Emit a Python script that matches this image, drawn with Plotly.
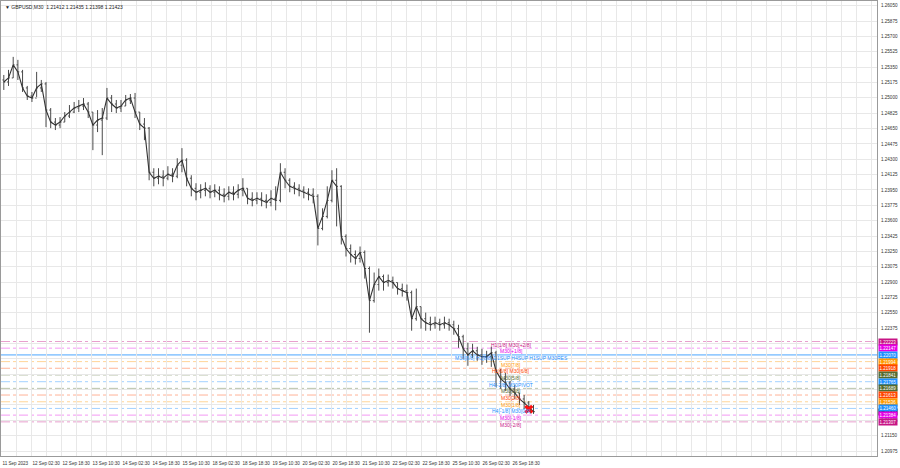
import plotly.graph_objects as go

# ---------------- data ----------------
open_ = [1.25204, 1.25181, 1.25227, 1.25376, 1.25296, 1.25113, 1.25021, 1.24998, 1.25113, 1.25159,
 1.24861, 1.24724, 1.24690, 1.24724, 1.24793, 1.24838, 1.24884, 1.24907, 1.24930, 1.24838,
 1.24690, 1.24747, 1.24770, 1.24998, 1.24930, 1.24884, 1.24907, 1.24976, 1.24998, 1.24838,
 1.24701, 1.24655, 1.24152, 1.24084, 1.24107, 1.24084, 1.24130, 1.24107, 1.24232, 1.24290,
 1.24084, 1.23969, 1.23924, 1.23947, 1.23969, 1.23924, 1.23947, 1.23901, 1.23878, 1.23924,
 1.23901, 1.23947, 1.23969, 1.23855, 1.23832, 1.23855, 1.23832, 1.23809, 1.23855, 1.23832,
 1.24152, 1.24061, 1.23992, 1.23969, 1.23947, 1.23924, 1.23901, 1.23878, 1.23512, 1.23649,
 1.23832, 1.24061, 1.23992, 1.23421, 1.23283, 1.23215, 1.23169, 1.23238, 1.23055, 1.22689,
 1.22872, 1.22963, 1.22895, 1.22918, 1.22895, 1.22826, 1.22803, 1.22780, 1.22483, 1.22620,
 1.22483, 1.22437, 1.22414, 1.22437, 1.22414, 1.22437, 1.22414, 1.22369, 1.22277, 1.22140,
 1.22071, 1.22117, 1.22071, 1.22049, 1.22049, 1.22094, 1.21888, 1.21797, 1.21751, 1.21683,
 1.21637, 1.21568, 1.21523, 1.21477]

high = [1.25261, 1.25319, 1.25467, 1.25433, 1.25319, 1.25136, 1.25067, 1.25296, 1.25204, 1.25181,
 1.24884, 1.24770, 1.24781, 1.24838, 1.24918, 1.24953, 1.24976, 1.24998, 1.24953, 1.24838,
 1.24861, 1.24884, 1.25113, 1.25033, 1.24976, 1.24976, 1.25033, 1.25044, 1.25056, 1.24838,
 1.24770, 1.24667, 1.24198, 1.24198, 1.24175, 1.24221, 1.24198, 1.24312, 1.24427, 1.24312,
 1.24118, 1.24027, 1.24015, 1.24038, 1.24004, 1.24015, 1.23992, 1.23969, 1.23992, 1.23992,
 1.24015, 1.24084, 1.23969, 1.23924, 1.23924, 1.23924, 1.23901, 1.23947, 1.23992, 1.24255,
 1.24198, 1.24084, 1.24038, 1.24015, 1.23992, 1.23969, 1.23969, 1.23901, 1.23741, 1.23992,
 1.24175, 1.24198, 1.24004, 1.23444, 1.23329, 1.23261, 1.23306, 1.23261, 1.23078, 1.23009,
 1.23055, 1.22986, 1.22986, 1.22963, 1.22895, 1.22883, 1.22872, 1.22803, 1.22826, 1.22620,
 1.22552, 1.22506, 1.22506, 1.22483, 1.22506, 1.22483, 1.22460, 1.22414, 1.22300, 1.22209,
 1.22197, 1.22163, 1.22140, 1.22117, 1.22163, 1.22117, 1.21911, 1.21866, 1.21774, 1.21728,
 1.21637, 1.21614, 1.21545, 1.21500]

low = [1.25090, 1.25136, 1.25227, 1.25204, 1.25067, 1.24976, 1.24953, 1.25010, 1.25067, 1.24667,
 1.24655, 1.24633, 1.24655, 1.24724, 1.24770, 1.24827, 1.24838, 1.24861, 1.24770, 1.24404,
 1.24610, 1.24347, 1.24747, 1.24838, 1.24827, 1.24838, 1.24907, 1.24930, 1.24770, 1.24633,
 1.24518, 1.24061, 1.23992, 1.24015, 1.23992, 1.24061, 1.24038, 1.24084, 1.24152, 1.23992,
 1.23878, 1.23832, 1.23855, 1.23878, 1.23855, 1.23867, 1.23832, 1.23809, 1.23832, 1.23832,
 1.23855, 1.23878, 1.23787, 1.23764, 1.23787, 1.23764, 1.23741, 1.23764, 1.23718, 1.23809,
 1.23969, 1.23924, 1.23901, 1.23878, 1.23855, 1.23832, 1.23798, 1.23318, 1.23490, 1.23626,
 1.23809, 1.23535, 1.23329, 1.23192, 1.23123, 1.23100, 1.23123, 1.22940, 1.22323, 1.22666,
 1.22803, 1.22803, 1.22849, 1.22826, 1.22757, 1.22735, 1.22689, 1.22346, 1.22460, 1.22369,
 1.22346, 1.22346, 1.22369, 1.22346, 1.22369, 1.22346, 1.22300, 1.22151, 1.22026, 1.21946,
 1.22037, 1.22003, 1.21957, 1.21980, 1.21934, 1.21706, 1.21683, 1.21660, 1.21603, 1.21568,
 1.21500, 1.21454, 1.21431, 1.21398]

close = [1.25181, 1.25227, 1.25376, 1.25296, 1.25113, 1.25021, 1.24998, 1.25113, 1.25159, 1.24861,
 1.24724, 1.24690, 1.24724, 1.24793, 1.24838, 1.24884, 1.24907, 1.24930, 1.24838, 1.24690,
 1.24747, 1.24770, 1.24998, 1.24930, 1.24884, 1.24907, 1.24976, 1.24998, 1.24838, 1.24701,
 1.24655, 1.24152, 1.24084, 1.24107, 1.24084, 1.24130, 1.24107, 1.24232, 1.24290, 1.24084,
 1.23969, 1.23924, 1.23947, 1.23969, 1.23924, 1.23947, 1.23901, 1.23878, 1.23924, 1.23901,
 1.23947, 1.23969, 1.23855, 1.23832, 1.23855, 1.23832, 1.23809, 1.23855, 1.23832, 1.24152,
 1.24061, 1.23992, 1.23969, 1.23947, 1.23924, 1.23901, 1.23878, 1.23512, 1.23649, 1.23832,
 1.24061, 1.23992, 1.23421, 1.23283, 1.23215, 1.23169, 1.23238, 1.23055, 1.22689, 1.22872,
 1.22963, 1.22895, 1.22918, 1.22895, 1.22826, 1.22803, 1.22780, 1.22483, 1.22620, 1.22483,
 1.22437, 1.22414, 1.22437, 1.22414, 1.22437, 1.22414, 1.22369, 1.22277, 1.22140, 1.22071,
 1.22117, 1.22071, 1.22049, 1.22049, 1.22094, 1.21888, 1.21797, 1.21751, 1.21683, 1.21637,
 1.21568, 1.21523, 1.21477, 1.21423]

BARS_PER_POINT = 5  # each plotted bar aggregates five M30 bars

time_labels = ["11 Sep 2023", "12 Sep 02:30", "12 Sep 18:30", "13 Sep 10:30", "14 Sep 02:30",
               "14 Sep 18:30", "15 Sep 10:30", "18 Sep 02:30", "18 Sep 18:30", "19 Sep 10:30",
               "20 Sep 02:30", "20 Sep 18:30", "21 Sep 10:30", "22 Sep 02:30", "22 Sep 18:30",
               "25 Sep 10:30", "26 Sep 02:30", "26 Sep 18:30"]
BARS_PER_LABEL = 32

level_values = [1.22223, 1.22147, 1.22070, 1.21994, 1.21918, 1.21841, 1.21765,
                1.21689, 1.21613, 1.21536, 1.21460, 1.21384, 1.21307]
level_names = ["H1[1/8] M30[+2/8]", "M30[+1/8]", "M30[8/8] H1[8/8] D1SUP H4SUP H1SUP M30RES",
               "M30[7/8]", "H1[6/8] M30[6/8]", "M30[5/8]", "H4[-2/8] M30PIVOT", "M30[3/8]",
               "M30[2/8]", "M30[1/8]", "H4[-1/8] M30[0/8]", "M30[-1/8]", "M30[-2/8]"]
level_colors = ["#C71585", "#E600E6", "#1E90FF", "#FF9900", "#FF4500", "#556B2F", "#1E90FF",
                "#556B2F", "#FF4500", "#FF9900", "#1E90FF", "#E600E6", "#C71585"]

symbol = "GBPUSD,M30"
last_ohlc = [1.21412, 1.21435, 1.21398, 1.21423]
signal_price = 1.21450

# ---------------- figure ----------------
bar_x = [BARS_PER_POINT * k + 2 for k in range(len(close))]

fig = go.Figure()
fig.add_trace(go.Ohlc(
    x=bar_x, open=open_, high=high, low=low, close=close,
    increasing=dict(line=dict(color="#4a4a4a", width=1)),
    decreasing=dict(line=dict(color="#4a4a4a", width=1)),
    tickwidth=0.3, showlegend=False, hoverinfo="skip"))
fig.add_trace(go.Scatter(
    x=bar_x, y=close, mode="lines", line=dict(color="#333333", width=1.1),
    showlegend=False, hoverinfo="skip"))

# signal marker near last bar
fig.add_trace(go.Scatter(
    x=[bar_x[-1] - 5], y=[signal_price], mode="markers",
    marker=dict(symbol="x", size=8, color="#FF1010", line=dict(width=0)),
    showlegend=False, hoverinfo="skip"))

shapes = []
annotations = []
for i, (v, name, col) in enumerate(zip(level_values, level_names, level_colors)):
    solid = (i == 2)
    shapes.append(dict(type="line", xref="paper", x0=0, x1=1, yref="y", y0=v, y1=v,
                       line=dict(color=col, width=1, dash="solid" if solid else "dashdot"),
                       opacity=0.8 if solid else 0.4, layer="below"))
    annotations.append(dict(x=543, y=v, xref="x", yref="y", text=name, showarrow=False,
                            xanchor="center", yanchor="middle", yshift=-3,
                            font=dict(family="Liberation Sans", size=5, color=col)))

# current price tag (black) then level tags
annotations.append(dict(x=1, y=close[-1], xref="paper", yref="y", text=f"{close[-1]:.5f}",
                        showarrow=False, xanchor="left", yanchor="middle", xshift=1,
                        bgcolor="#000000", borderpad=0.5,
                        font=dict(family="Liberation Sans", size=4.5, color="white")))
for v, col in zip(level_values, level_colors):
    annotations.append(dict(x=1, y=v, xref="paper", yref="y", text=f"{v:.5f}",
                            showarrow=False, xanchor="left", yanchor="middle", xshift=1,
                            bgcolor=col, borderpad=0.5,
                            font=dict(family="Liberation Sans", size=4.5, color="white")))

annotations.append(dict(x=0, y=1, xref="paper", yref="paper", xanchor="left", yanchor="top",
                        xshift=2, yshift=-1, showarrow=False,
                        text="▼ " + symbol + "  " + " ".join(f"{p:.5f}" for p in last_ohlc),
                        font=dict(family="Liberation Sans", size=5, color="#222222")))

tickvals = list(range(0, 934, BARS_PER_LABEL // 2))
ticktext = []
for i, _ in enumerate(tickvals):
    if i % 2 == 0 and i // 2 < len(time_labels):
        ticktext.append(time_labels[i // 2])
    else:
        ticktext.append("")

fig.update_layout(
    width=900, height=468,
    margin=dict(l=1, r=23, t=1, b=12),
    paper_bgcolor="white", plot_bgcolor="white",
    shapes=shapes, annotations=annotations,
    xaxis=dict(range=[-1, 933.4], tickmode="array", tickvals=tickvals, ticktext=ticktext,
               tickangle=0,
               showgrid=True, gridcolor="#E8E8E8", gridwidth=1, zeroline=False,
               showline=True, linecolor="#9A9A9A", mirror=True, ticks="",
               ticklabelposition="outside right", ticklabelstandoff=2,
               tickfont=dict(family="Liberation Sans", size=4.6, color="#333333"),
               rangeslider=dict(visible=False), automargin=False, fixedrange=True),
    yaxis=dict(side="right", range=[1.20918, 1.26104], tickmode="linear",
               tick0=1.20975, dtick=0.00175, tickformat=".5f",
               showgrid=True, gridcolor="#E8E8E8", gridwidth=1, zeroline=False,
               showline=True, linecolor="#9A9A9A", mirror=True, ticks="",
               ticklabelstandoff=2,
               tickfont=dict(family="Liberation Sans", size=4.6, color="#333333"),
               automargin=False, fixedrange=True),
)

fig.write_html("out.html", config={"displayModeBar": False},
               post_script="document.body.style.margin='0';document.body.style.overflow='hidden';")
